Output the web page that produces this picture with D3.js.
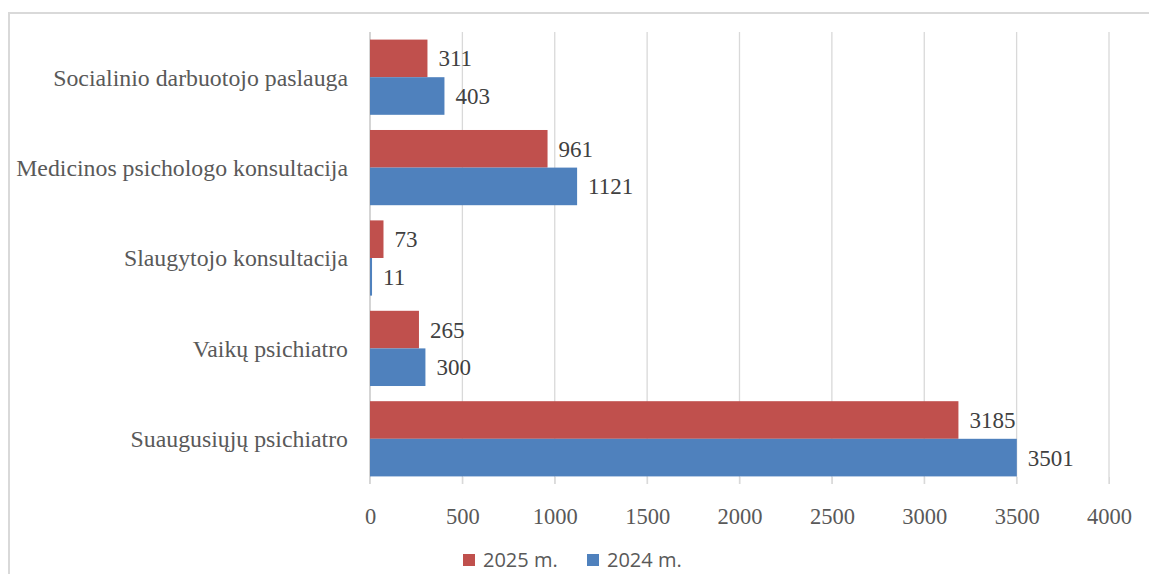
<!DOCTYPE html>
<html>
<head>
<meta charset="utf-8">
<script src="https://cdn.jsdelivr.net/npm/d3@7"></script>
<style>
	body{margin:0;background:#fff;}
	svg{display:block;}
	.serif{font-family:"Liberation Serif","Times New Roman",serif;}
	.sans{font-family:"Open Sans","Noto Sans",sans-serif;}
</style>
</head>
<body>
<div id="chart"></div>
<script>
var WIDTH=1149,
	HEIGHT=574;

var categories=["Socialinio darbuotojo paslauga","Medicinos psichologo konsultacija","Slaugytojo konsultacija","Vaikų psichiatro","Suaugusiųjų psichiatro"];
var series=["2025 m.","2024 m."];
var values2025=[311,961,73,265,3185];
var values2024=[403,1121,11,300,3501];
var ticks=[0,500,1000,1500,2000,2500,3000,3500,4000];
var colors=["#C0504D","#4F81BD"];

var svg=d3.select("#chart")
			.append("svg")
				.attr("width",WIDTH)
				.attr("height",HEIGHT);

// outer frame (cropped at right and bottom)
svg.append("path")
	.attr("d","M9,574V13H1149")
	.attr("fill","none")
	.attr("stroke","#d9d9d9")
	.attr("stroke-width",2);

var x=d3.scaleLinear().domain([0,4000]).range([370,1109]);
var y=d3.scaleBand().domain(categories).range([32,484]).paddingInner(0.168).paddingOuter(0.084);
var sub=d3.scaleBand().domain(series).range([0,y.bandwidth()]);

// gridlines
svg.append("g")
	.selectAll("line")
	.data(ticks)
	.enter()
		.append("line")
			.attr("x1",function(d){return x(d);})
			.attr("x2",function(d){return x(d);})
			.attr("y1",32)
			.attr("y2",484)
			.attr("stroke",function(d){return d==0?"#bfbfbf":"#d9d9d9";})
			.attr("stroke-width",1.3);

var xAxis=svg.append("g")
	.attr("transform","translate(0,477)")
	.call(d3.axisBottom(x).tickValues(ticks).tickSize(7).tickPadding(24).tickFormat(d3.format("d")));
xAxis.select(".domain").remove();
xAxis.selectAll("line").attr("stroke","#d9d9d9");
xAxis.attr("font-family",null).attr("font-size",null);
xAxis.selectAll("text")
	.attr("class","serif")
	.attr("fill","#595959")
	.style("font-size","22.5px");

// category labels
svg.append("g")
	.selectAll("text")
	.data(categories)
	.enter()
		.append("text")
			.attr("class","serif")
			.attr("x",348)
			.attr("y",function(d){return y(d)+y.bandwidth()/2;})
			.attr("dy","0.35em")
			.attr("text-anchor","end")
			.attr("fill","#595959")
			.style("font-size","23.8px")
			.text(function(d){return d;});

var rows=[];
categories.forEach(function(c,i){
	rows.push({cat:c,s:series[0],v:values2025[i],color:colors[0]});
	rows.push({cat:c,s:series[1],v:values2024[i],color:colors[1]});
});

var bars=svg.append("g").selectAll("g.bar")
	.data(rows)
	.enter()
		.append("g")
			.attr("class","bar");

bars.append("rect")
	.attr("x",x(0))
	.attr("y",function(d){return y(d.cat)+sub(d.s);})
	.attr("width",function(d){return x(d.v)-x(0);})
	.attr("height",sub.bandwidth())
	.attr("fill",function(d){return d.color;});

bars.append("text")
	.attr("class","serif")
	.attr("x",function(d){return x(d.v)+11;})
	.attr("y",function(d){return y(d.cat)+sub(d.s)+sub.bandwidth()/2;})
	.attr("dy","0.35em")
	.attr("fill","#404040")
	.style("font-size","23px")
	.text(function(d){return d.v;});

// legend
var legend=svg.append("g")
	.selectAll("g")
	.data(series)
	.enter()
		.append("g")
			.attr("transform",function(d,i){return "translate("+(463+i*124)+",560)";});

legend.append("rect")
	.attr("x",0)
	.attr("y",-6)
	.attr("width",12)
	.attr("height",12)
	.attr("fill",function(d,i){return colors[i];});

legend.append("text")
	.attr("class","sans")
	.attr("x",20)
	.attr("y",0)
	.attr("dy","0.35em")
	.attr("fill","#595959")
	.style("font-size","20px")
	.text(function(d){return d;});
</script>
</body>
</html>
